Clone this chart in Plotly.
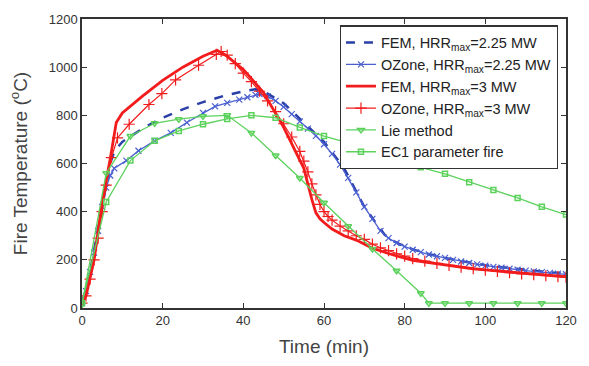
import plotly.graph_objects as go

# ---- data ----
fem225_t = [0, 2, 4, 6, 7, 8, 10, 15, 20, 25, 30, 35, 40, 43, 45, 50, 55, 60, 65, 70, 73, 75, 77, 80, 85, 90, 95, 100, 110, 120]
fem225_T = [20, 150, 330, 520, 600, 650, 690, 745, 790, 825, 855, 880, 900, 908, 900, 850, 770, 690, 580, 420, 350, 305, 280, 255, 228, 208, 192, 178, 158, 142]

oz225_t = [0, 1, 2, 3, 4, 5, 6, 7, 8, 11, 14, 18, 22, 26, 30, 33, 36, 39, 41, 43, 44, 46, 48, 50, 52, 54, 56, 58, 60, 62, 64, 66, 68, 70, 72, 74, 76, 78, 80, 82, 84, 86, 88, 90, 92, 94, 96, 98, 100, 102, 104, 106, 108, 110, 112, 114, 116, 118, 120]
oz225_T = [20, 70, 150, 230, 320, 420, 500, 550, 580, 612, 653, 694, 727, 770, 810, 837, 852, 865, 875, 885, 888, 880, 860, 835, 805, 775, 745, 715, 680, 640, 595, 540, 480, 420, 370, 320, 290, 270, 255, 242, 232, 222, 215, 208, 200, 193, 187, 181, 176, 171, 167, 163, 159, 155, 152, 149, 146, 143, 140]

fem3_t = [0, 1, 3, 5, 7, 8.5, 10, 15, 20, 25, 30, 33.5, 36, 40, 45, 50, 55, 56, 57, 58, 59, 60, 62, 65, 68, 72, 75, 78, 82, 90, 97, 100, 110, 120]
fem3_T = [20, 50, 200, 440, 620, 770, 810, 880, 945, 1000, 1045, 1070, 1045, 990, 895, 750, 580, 510, 450, 395, 370, 355, 328, 300, 282, 248, 232, 216, 198, 178, 163, 158, 143, 130]

oz3_t = [0, 1, 2, 3, 4, 5, 6, 7.3, 8.8, 11.7, 16.6, 19.8, 23.2, 28.9, 33.3, 34.5, 36, 38, 40, 42, 44, 46, 48, 50, 52, 54, 55, 56, 57, 58, 59, 60, 61, 62, 64, 66, 68, 70, 72, 74, 76, 78, 80, 82, 85, 88, 91, 94, 97, 100, 103, 106, 109, 112, 115, 118, 120]
oz3_T = [20, 50, 120, 200, 290, 400, 510, 624, 706, 763, 845, 890, 947, 1008, 1053, 1065, 1050, 1015, 975, 940, 900, 860, 815, 765, 710, 650, 610, 565, 515, 470, 430, 400, 380, 365, 340, 320, 300, 285, 265, 250, 238, 225, 215, 205, 195, 185, 177, 170, 163, 157, 152, 147, 142, 138, 134, 130, 128]

lie_t = [0, 6, 12, 18, 24, 30, 36, 42, 48, 54, 60, 66, 72, 78, 84, 86, 90, 96, 102, 108, 114, 120]
lie_T = [15, 560, 714, 767, 784, 796, 800, 727, 633, 540, 437, 339, 245, 155, 61, 20, 20, 20, 20, 20, 20, 20]

ec1_t = [0, 6, 12, 18, 24, 30, 36, 42, 48, 54, 60, 66, 72, 78, 84, 90, 96, 102, 108, 114, 120]
ec1_T = [20, 440, 612, 694, 735, 763, 785, 800, 790, 750, 714, 686, 653, 620, 584, 557, 522, 490, 457, 420, 388]

x_ticks = [0, 20, 40, 60, 80, 100, 120]
y_ticks = [0, 200, 400, 600, 800, 1000, 1200]

RED = "#f21c1c"
BLUE_D = "#2a3fa8"
BLUE_O = "#4a5fd0"
GREEN = "#5cd25c"
FONT = "Arial, Liberation Sans"

fig = go.Figure()
fig.add_trace(go.Scatter(x=fem225_t, y=fem225_T, mode="lines", name="FEM, HRR<sub>max</sub>=2.25 MW",
                         line=dict(color=BLUE_D, width=2.5, dash="dash")))
fig.add_trace(go.Scatter(x=oz225_t, y=oz225_T, mode="lines+markers", name="OZone, HRR<sub>max</sub>=2.25 MW",
                         line=dict(color=BLUE_O, width=1.3),
                         marker=dict(symbol="x-thin", size=6, line=dict(color=BLUE_O, width=1.2))))
fig.add_trace(go.Scatter(x=fem3_t, y=fem3_T, mode="lines", name="FEM, HRR<sub>max</sub>=3 MW",
                         line=dict(color=RED, width=2.8)))
fig.add_trace(go.Scatter(x=oz3_t, y=oz3_T, mode="lines+markers", name="OZone, HRR<sub>max</sub>=3 MW",
                         line=dict(color=RED, width=1.2),
                         marker=dict(symbol="cross-thin", size=8, line=dict(color=RED, width=1.2))))
fig.add_trace(go.Scatter(x=lie_t, y=lie_T, mode="lines+markers", name="Lie method",
                         line=dict(color=GREEN, width=1.3),
                         marker=dict(symbol="triangle-down-open", size=6, line=dict(color=GREEN, width=1.5))))
fig.add_trace(go.Scatter(x=ec1_t, y=ec1_T, mode="lines+markers", name="EC1 parameter fire",
                         line=dict(color=GREEN, width=1.3),
                         marker=dict(symbol="square-open", size=5, line=dict(color=GREEN, width=1.5))))

axis_common = dict(showgrid=False, zeroline=False, showline=True, linecolor="#333333", linewidth=1.5,
                   mirror="ticks", ticks="inside", ticklen=5, tickcolor="#333333",
                   tickfont=dict(family=FONT, size=13, color="#333333"))

fig.update_xaxes(range=[0, 120], tickvals=x_ticks,
                 title=dict(text="Time (min)", font=dict(family=FONT, size=19, color="#444444"), standoff=12),
                 **axis_common)
fig.update_yaxes(range=[0, 1200], tickvals=y_ticks,
                 title=dict(text="Fire Temperature (<sup>o</sup>C)", font=dict(family=FONT, size=19, color="#444444"), standoff=16),
                 **axis_common)

fig.update_layout(
    width=589, height=366,
    margin=dict(l=82, r=16, t=16, b=56),
    plot_bgcolor="white", paper_bgcolor="white",
    legend=dict(x=0.983, y=0.978, xanchor="right", yanchor="top",
                bgcolor="white", bordercolor="#333333", borderwidth=1.2,
                font=dict(family=FONT, size=14.5, color="#222222"),
                tracegroupgap=0, itemwidth=30),
)

fig.write_html("out.html")
